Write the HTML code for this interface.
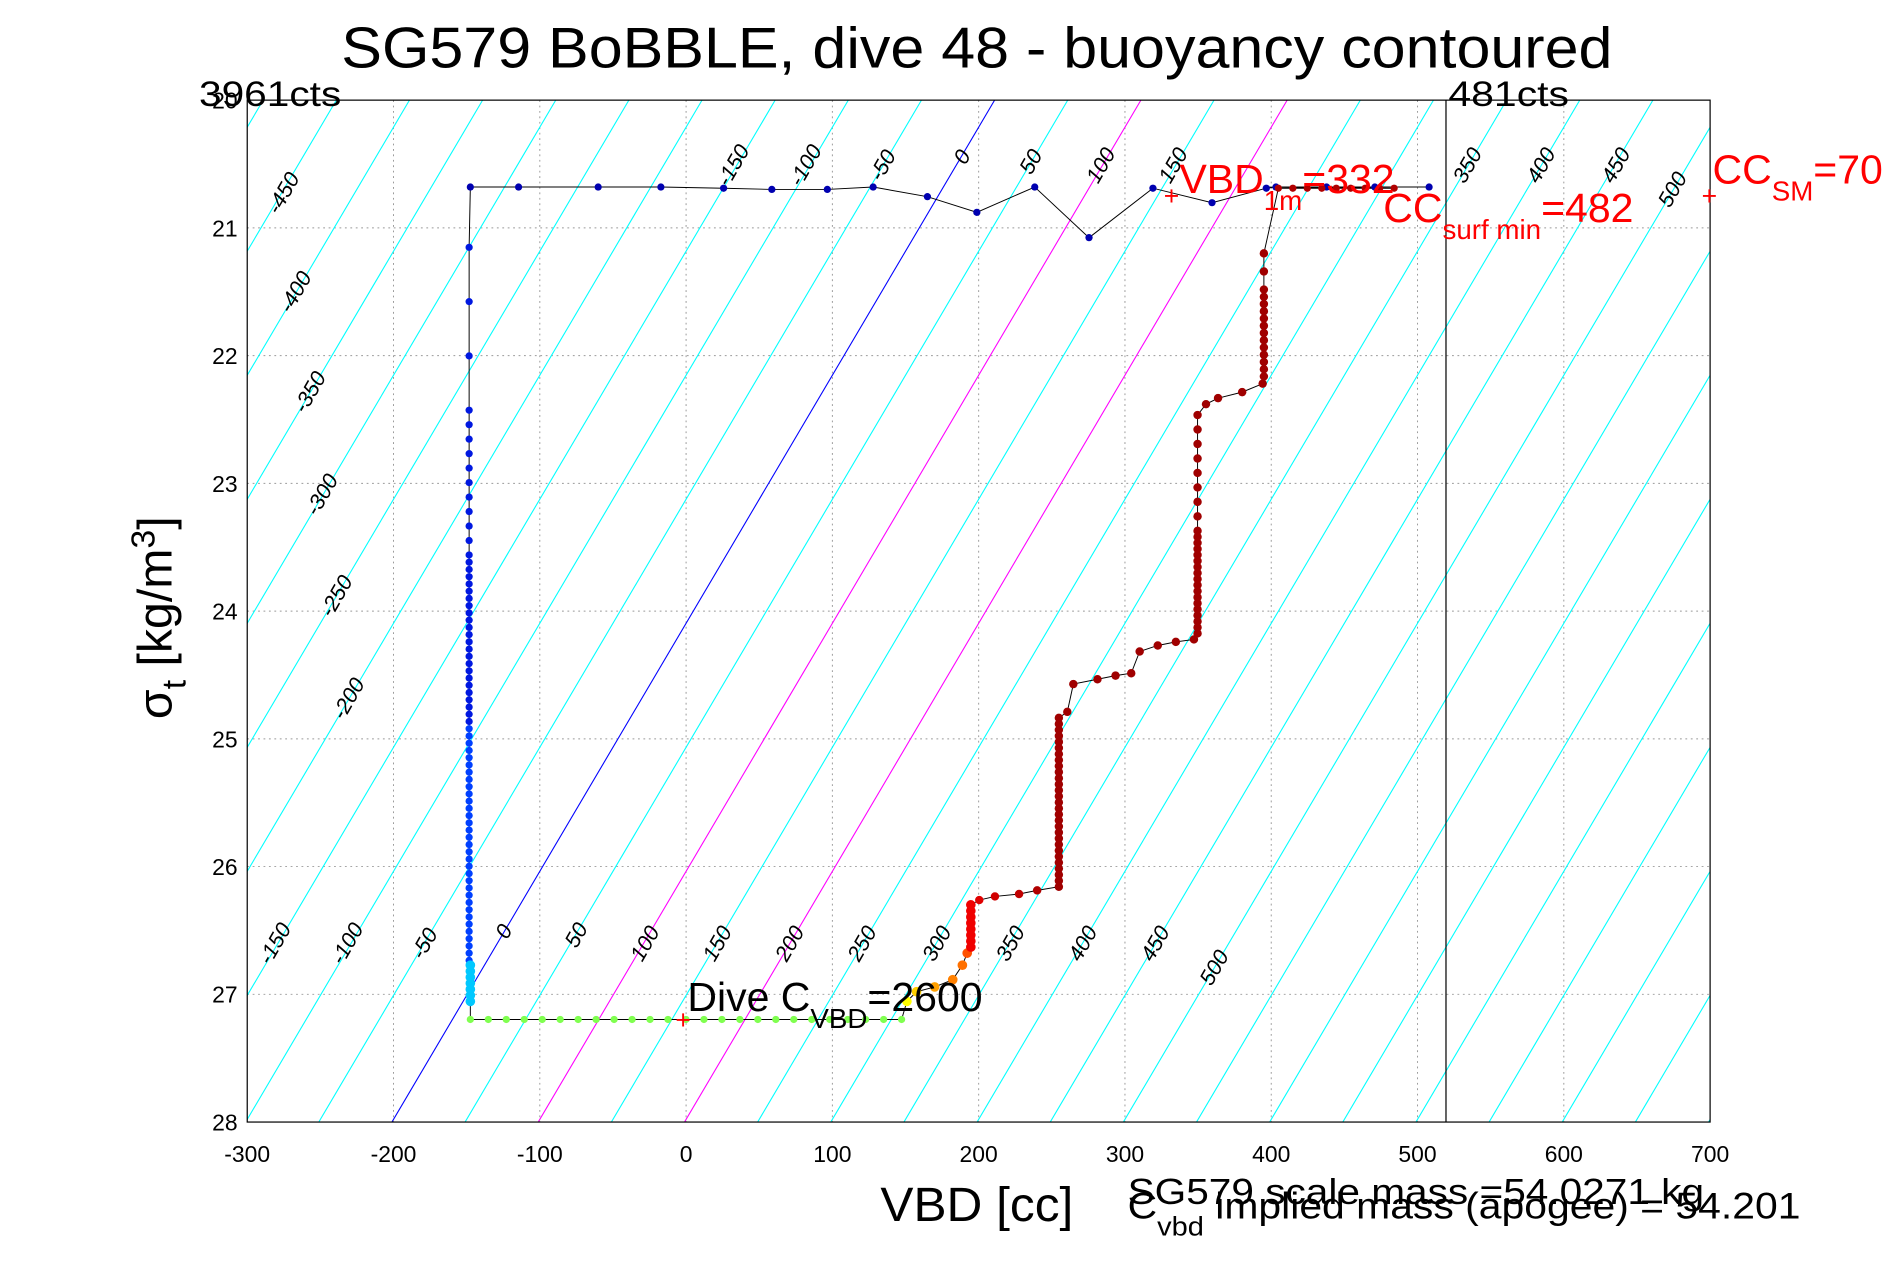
<!DOCTYPE html>
<html><head><meta charset="utf-8"><style>
html,body{margin:0;padding:0;background:#fff}
svg{display:block;font-family:"Liberation Sans",sans-serif}
</style></head><body>
<svg id="s" width="1891" height="1262" viewBox="0 0 1568 1046" preserveAspectRatio="none" xmlns="http://www.w3.org/2000/svg">
<defs><clipPath id="c"><rect x="205" y="83" width="1213" height="847"/></clipPath></defs>
<rect width="1568" height="1046" fill="#fff"/>
<g id="grid" stroke="#999" stroke-width="0.8" stroke-dasharray="1.5,3"></g>
<g id="diag" clip-path="url(#c)" stroke-width="0.9" fill="none"></g>
<g id="dlab" font-size="18" font-style="italic" fill="#000"></g>
<rect x="205" y="83" width="1213" height="847" fill="none" stroke="#000" stroke-width="1"/>
<line x1="1199" y1="83" x2="1199" y2="930" stroke="#000" stroke-width="1"/>
<g id="ticks" font-size="19" fill="#000"></g>
<polyline id="trk" fill="none" stroke="#000" stroke-width="0.8"/>
<g id="dots"></g>
<text x="283" y="56" font-size="48" textLength="1054" lengthAdjust="spacingAndGlyphs">SG579 BoBBLE, dive 48 - buoyancy contoured</text>
<text x="165" y="88" font-size="29" textLength="118" lengthAdjust="spacingAndGlyphs">3961cts</text>
<text x="1201" y="88" font-size="29" textLength="100" lengthAdjust="spacingAndGlyphs">481cts</text>
<g fill="#f00" font-size="34">
<text x="965" y="170" font-size="22">+</text>
<text x="978" y="160">VBD<tspan font-size="23" dy="14">1m</tspan><tspan dy="-14">=332</tspan></text>
<text x="1147" y="184">CC<tspan font-size="23" dy="14">surf min</tspan><tspan dy="-14">=482</tspan></text>
<text x="1420" y="152">CC<tspan font-size="23" dy="14">SM</tspan><tspan dy="-14">=70</tspan></text>
<text x="1411" y="170" font-size="22">+</text>
<text x="560" y="853" font-size="22">+</text>
</g>
<text x="570" y="838" font-size="34">Dive C<tspan font-size="23" dy="14">VBD</tspan><tspan dy="-14">=2600</tspan></text>
<text x="730" y="1012" font-size="40" textLength="160" lengthAdjust="spacingAndGlyphs">VBD [cc]</text>
<text x="935" y="998" font-size="30" textLength="478" lengthAdjust="spacingAndGlyphs">SG579 scale mass =54.0271 kg</text>
<g transform="translate(935,0) scale(1.094,1) translate(-935,0)">
<text x="935" y="1010" font-size="31">C<tspan font-size="22" dy="14">vbd</tspan><tspan dy="-14"> implied mass (apogee) = 54.201</tspan></text>
</g>
<text transform="translate(142,512) rotate(-90)" font-size="40" text-anchor="middle">σ<tspan font-size="28" dy="12">t</tspan><tspan dy="-12"> [kg/m</tspan><tspan font-size="28" dy="-14">3</tspan><tspan dy="14">]</tspan></text>
</svg>
<script>
var NS="http://www.w3.org/2000/svg";
function el(p,t,a,txt){var e=document.createElementNS(NS,t);for(var k in a)e.setAttribute(k,a[k]);if(txt!==undefined)e.textContent=txt;document.getElementById(p).appendChild(e);return e;}
var X=function(v){return 205+(v+300)*1.213},Y=function(s){return 83+(s-20)*105.875};
for(var v=-200;v<=600;v+=100)el("grid","line",{x1:X(v),y1:83,x2:X(v),y2:930});
for(var s=21;s<=27;s++)el("grid","line",{x1:205,y1:Y(s),x2:1418,y2:Y(s)});
for(var v=-300;v<=700;v+=100)el("ticks","text",{x:X(v),y:963,"text-anchor":"middle"},v);
for(var s=20;s<=28;s++)el("ticks","text",{x:197,y:Y(s)+7,"text-anchor":"end"},s);
for(var k=-25;k<=20;k++){var x0=325+k*60.65,c="#0ff";if(k==0)c="#00f";if(k==2||k==4)c="#f0f";
el("diag","line",{x1:x0,y1:930,x2:x0+847*0.590,y2:83,stroke:c});}
var labs=[["-450",240,163],["-400",250,245],["-350",262,328],["-300",272,413],["-250",284,497],["-200",294,582],
["-150",613,140],["-100",673,140],["-50",737,140],["0",803,133],["50",860,137],["100",918,140],["150",978,140],["350",1222,140],["400",1283,140],["450",1345,140],["500",1392,160],
["-150",233,785],["-100",293,785],["-50",357,785],["0",423,775],["50",483,778],["100",540,785],["150",600,785],["200",660,785],["250",720,785],["300",782,785],["350",843,785],["400",903,785],["450",963,785],["500",1012,805]];
labs.forEach(function(l){el("dlab","text",{x:0,y:0,"text-anchor":"middle",transform:"translate("+l[1]+","+l[2]+") rotate(-60)"},l[0]);});
var pts=[],dots=[];
function add(x,y,c,r){pts.push(x+","+y);dots.push([x,y,c,r||3]);}
[[1185,155],[1140,155],[1100,155],[1058,155],[1050,156],[1005,168],[956,156],[903,197],[858,155],[810,176],[769,163],[724,155],[686,157],[640,157],[600,156],[548,155],[496,155],[430,155],[390,155]].forEach(function(p){add(p[0],p[1],"#0000b0",3);});
for(var y=205;y<=800;y+=(y<320?45:(y<460?12:6)))add(389,y,y<600?"#0018e0":"#0040ff",3);
for(var y=800;y<=830;y+=5)add(390,y,"#00c8ff",4);
for(var x=390;x<=748;x+=14.9)add(x,845,"#80ff50",3);
[[752,830,"#ffff00"],[760,822,"#ffd000"],[775,818,"#ffa000"],[790,812,"#ff8000"],[798,800,"#ff7000"],[802,790,"#ff5000"]].forEach(function(p){add(p[0],p[1],p[2],4);});
for(var y=785;y>=750;y-=5)add(805,y,"#f00000",4);
[[812,746,"#e00000"],[825,743,"#d00000"],[845,741,"#c00000"],[860,738,"#b00000"],[878,735,"#a00000"]].forEach(function(p){add(p[0],p[1],p[2],3.5);});
for(var y=730;y>=595;y-=5)add(878,y,"#a00000",3.5);
[[885,590],[890,567],[910,563],[925,560],[938,558],[945,540],[960,535],[975,532],[990,530]].forEach(function(p){add(p[0],p[1],"#a00000",3.5);});
for(var y=525;y>=340;y-=(y>440?5:12))add(993,y,"#a00000",3.5);
[[1000,335],[1010,330],[1030,325],[1047,318]].forEach(function(p){add(p[0],p[1],"#a00000",3.5);});
for(var y=312;y>=205;y-=(y>240?6:15))add(1048,y,"#a00000",3.5);
for(var x=1060;x<=1160;x+=12)add(x,156,"#b00000",3);
document.getElementById("trk").setAttribute("points",pts.join(" ")+" 1048,155");
dots.forEach(function(d){el("dots","circle",{cx:d[0],cy:d[1],r:d[3],fill:d[2]});});
</script>
</body></html>
